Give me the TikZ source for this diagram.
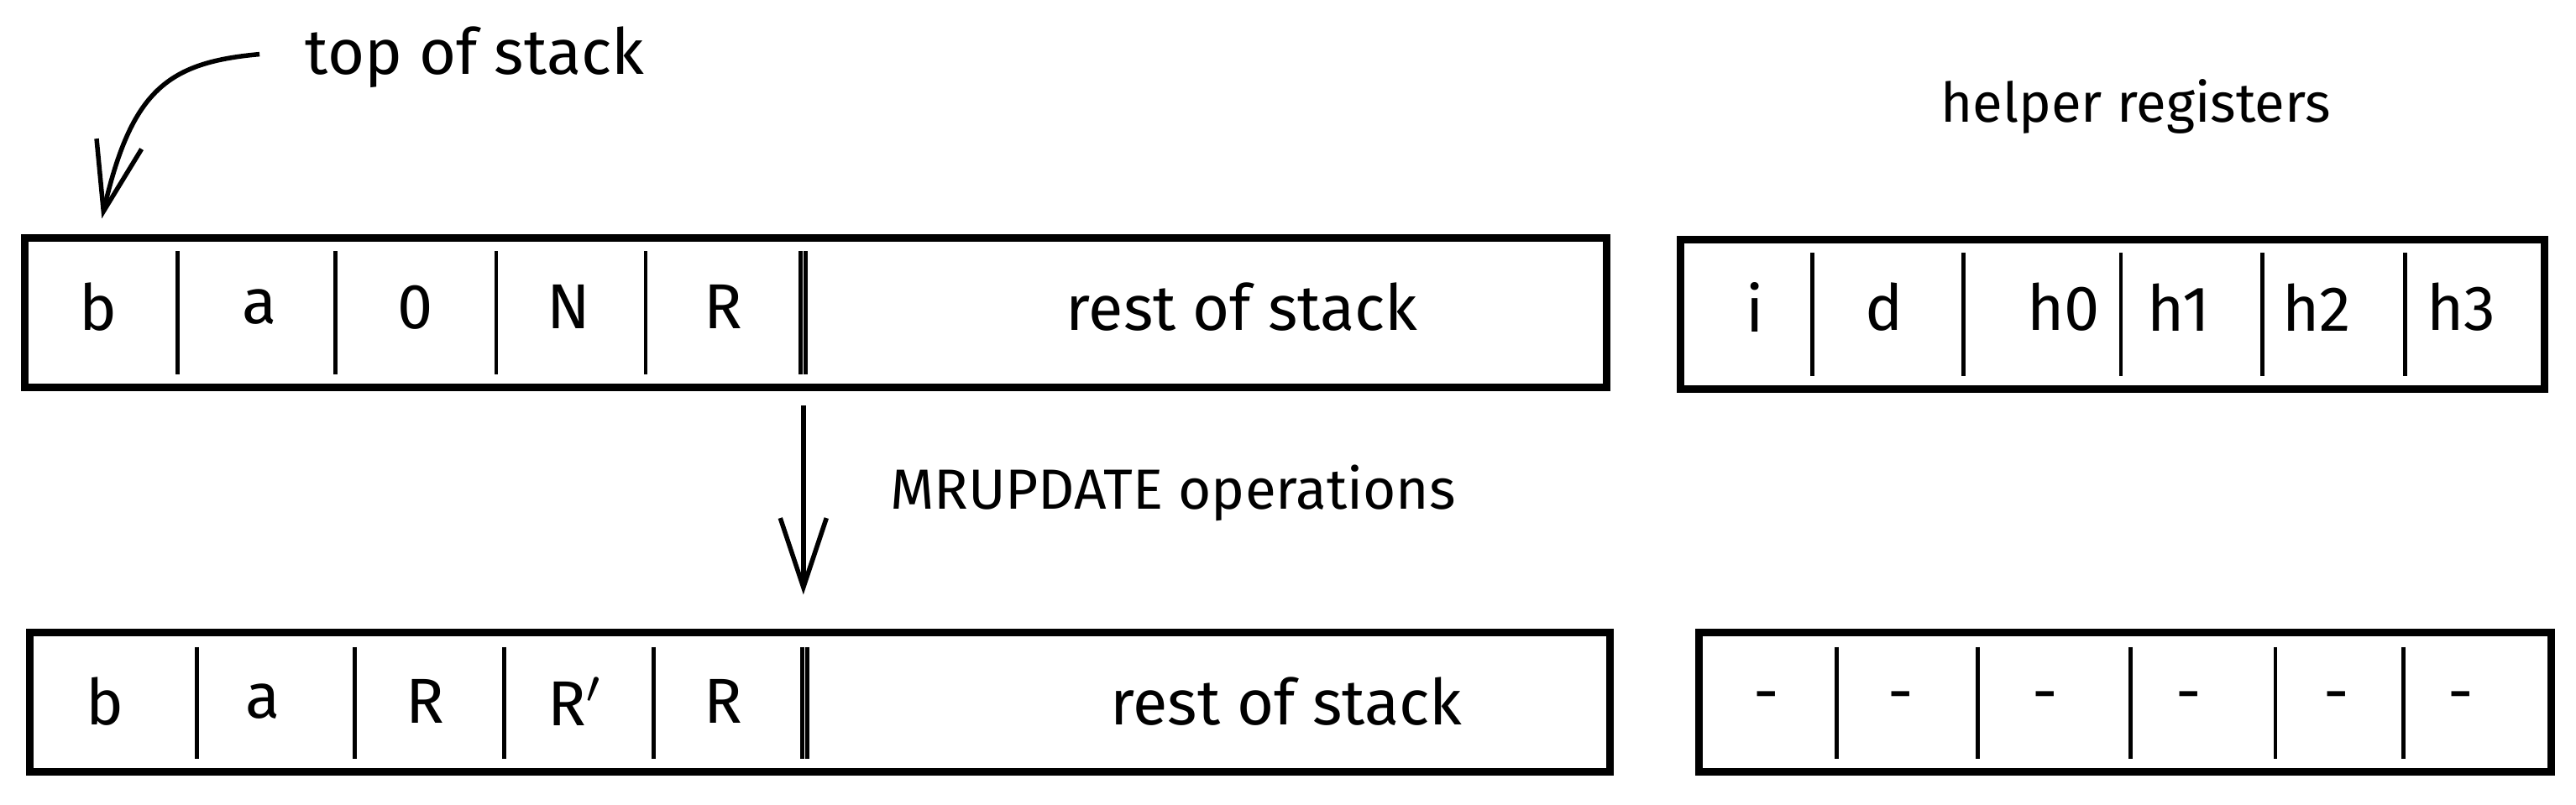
\documentclass[tikz,border=0pt]{standalone}
\usepackage{fontspec}
\setmainfont{Fira Sans}
\usepackage{tikz}
\usetikzlibrary{arrows.meta}
\pgfkeys{tikz/stackbox/.style={draw, line width=1.3pt, inner sep=0pt}}
\pgfkeys{tikz/cell/.style={font=\fontsize{11}{13}\selectfont, inner sep=1pt}}
\pgfkeys{tikz/divider/.style={line width=0.7pt}}
\pgfkeys{tikz/sketcharrow/.style={line width=0.8pt, -{Straight Barb[length=12pt, width=8pt]}}}

\begin{document}
\begin{tikzpicture}
                \useasboundingbox (0,0) rectangle (15.68,-4.90);

                % labels
                \node[cell] (tos) at (2.89, -0.35) {top of stack};
                \node[cell, font=\fontsize{9.5}{12}\selectfont] (helpers) at (13.00, -0.65) {helper registers};
                \node[cell, font=\fontsize{9.8}{12}\selectfont] (mrupdate) at (7.14, -3.00) {MRUPDATE operations};

                % stack before
                \node[stackbox, minimum width=9.63cm, minimum height=0.91cm] (stack1) at (4.965, -1.905) {};
                \node[cell] (b1) at (0.60, -1.87) {b};
                \node[cell] (a1) at (1.58, -1.87) {a};
                \node[cell] (zero1) at (2.53, -1.87) {0};
                \node[cell] (n1) at (3.46, -1.87) {N};
                \node[cell] (r1) at (4.40, -1.87) {R};
                \node[cell] (rest1) at (7.56, -1.87) {rest of stack};

                \draw[divider] (1.08, -1.53) -- (1.08, -2.28);
                \draw[divider] (2.04, -1.53) -- (2.04, -2.28);
                \draw[divider] (3.02, -1.53) -- (3.02, -2.28);
                \draw[divider] (3.93, -1.53) -- (3.93, -2.28);
                \draw[divider] (4.875, -1.53) -- (4.875, -2.28);
                \draw[divider] (4.905, -1.53) -- (4.905, -2.28);

                % helper registers before
                \node[stackbox, minimum width=5.26cm, minimum height=0.91cm] (help1) at (12.86, -1.915) {};
                \node[cell] (i1) at (10.68, -1.87) {i};
                \node[cell] (d1) at (11.47, -1.87) {d};
                \node[cell] (hz1) at (12.56, -1.87) {h0};
                \node[cell] (ho1) at (13.26, -1.87) {h1};
                \node[cell] (ht1) at (14.10, -1.87) {h2};
                \node[cell] (hth1) at (14.98, -1.87) {h3};

                \draw[divider] (11.03, -1.54) -- (11.03, -2.29);
                \draw[divider] (11.95, -1.54) -- (11.95, -2.29);
                \draw[divider] (12.91, -1.54) -- (12.91, -2.29);
                \draw[divider] (13.77, -1.54) -- (13.77, -2.29);
                \draw[divider] (14.64, -1.54) -- (14.64, -2.29);

                % stack after
                \node[stackbox, minimum width=9.62cm, minimum height=0.85cm] (stack2) at (4.99, -4.275) {};
                \node[cell] (b2) at (0.64, -4.27) {b};
                \node[cell] (a2) at (1.60, -4.27) {a};
                \node[cell] (r2) at (2.59, -4.27) {R};
                \node[cell] (rp2) at (3.50, -4.27) {R$'$};
                \node[cell] (rr2) at (4.40, -4.27) {R};
                \node[cell] (rest2) at (7.83, -4.27) {rest of stack};

                \draw[divider] (1.20, -3.94) -- (1.20, -4.62);
                \draw[divider] (2.16, -3.94) -- (2.16, -4.62);
                \draw[divider] (3.07, -3.94) -- (3.07, -4.62);
                \draw[divider] (3.98, -3.94) -- (3.98, -4.62);
                \draw[divider] (4.885, -3.94) -- (4.885, -4.62);
                \draw[divider] (4.915, -3.94) -- (4.915, -4.62);

                % helper registers after
                \node[stackbox, minimum width=5.19cm, minimum height=0.85cm] (help2) at (12.935, -4.275) {};
                \node[cell] (m1) at (10.75, -4.28) {-};
                \node[cell] (m2) at (11.57, -4.28) {-};
                \node[cell] (m3) at (12.45, -4.28) {-};
                \node[cell] (m4) at (13.32, -4.28) {-};
                \node[cell] (m5) at (14.22, -4.28) {-};
                \node[cell] (m6) at (14.98, -4.28) {-};

                \draw[divider] (11.18, -3.94) -- (11.18, -4.62);
                \draw[divider] (12.04, -3.94) -- (12.04, -4.62);
                \draw[divider] (12.97, -3.94) -- (12.97, -4.62);
                \draw[divider] (13.85, -3.94) -- (13.85, -4.62);
                \draw[divider] (14.63, -3.94) -- (14.63, -4.62);

                % arrows
                \coordinate (tostail) at (1.58, -0.33);
                \coordinate (toshead) at (0.62, -1.33);
                \coordinate (updtail) at (4.89, -2.47);
                \coordinate (updhead) at (4.89, -3.62);

                \draw[sketcharrow] (tostail) .. controls (1.02, -0.38) and (0.80, -0.55) .. (toshead);
                \draw[sketcharrow] (updtail) -- (updhead);

            \end{tikzpicture}
\end{document}
